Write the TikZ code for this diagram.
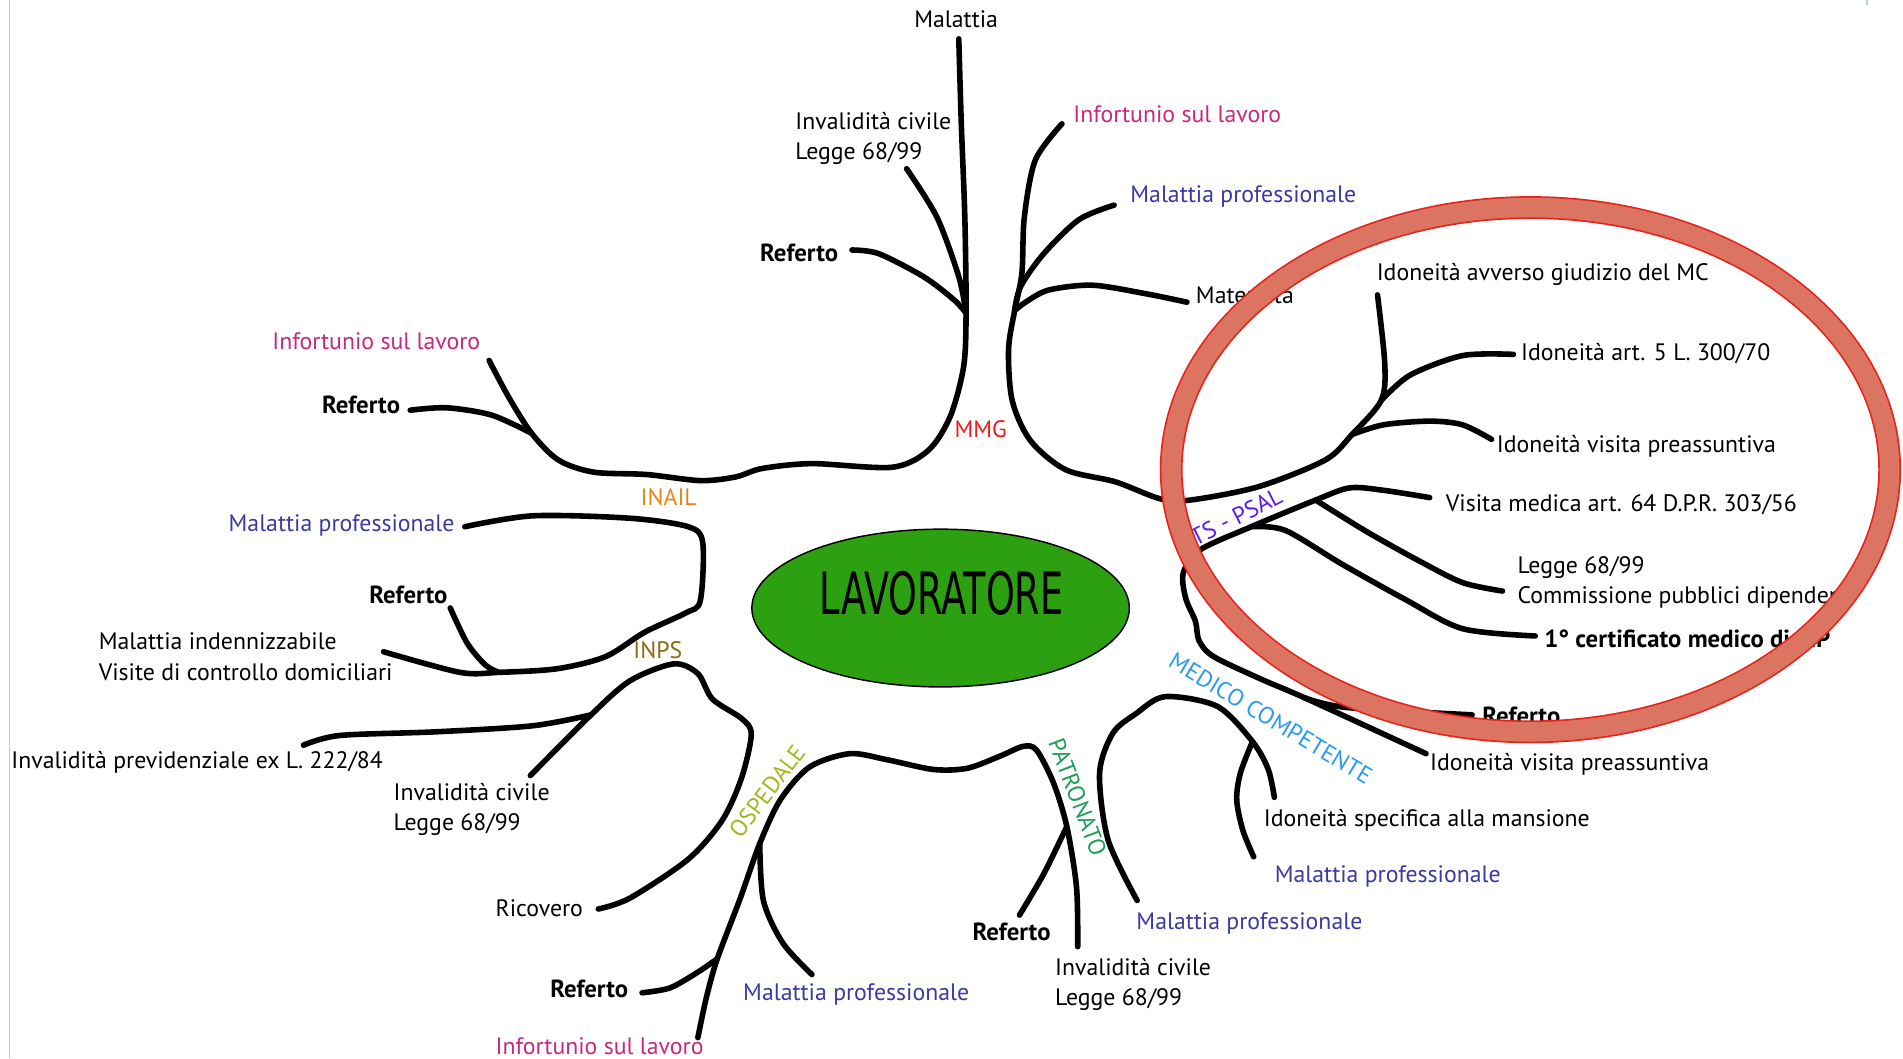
\documentclass[tikz,border=0pt]{standalone}
\usepackage{fontspec}
\setmainfont{PT Sans}
\newfontfamily\bigfont{DejaVu Sans}
\usetikzlibrary{shapes.geometric}

\definecolor{infcol}{HTML}{C8287E}
\definecolor{mpcol}{HTML}{3A3AA0}
\definecolor{mmgcol}{HTML}{EE1C1C}
\definecolor{inailcol}{HTML}{E8841C}
\definecolor{inpscol}{HTML}{8B6914}
\definecolor{ospcol}{HTML}{A6B51E}
\definecolor{patcol}{HTML}{1E9E55}
\definecolor{mccol}{HTML}{2A9AF0}
\definecolor{atscol}{HTML}{5A1AF0}
\definecolor{lavgreen}{HTML}{2CA010}
\definecolor{ringfill}{HTML}{DC7462}
\definecolor{ringred}{HTML}{E8231A}
\definecolor{edgegray}{HTML}{B8CDD0}

\tikzset{
  branch/.style={line width=2.3pt, line cap=round, line join=round},
  lbl/.style={anchor=west, inner sep=0pt, align=left, font=\fontsize{9.8}{12.5}\selectfont},
  ref/.style={lbl, font=\fontsize{10.2}{12.5}\selectfont\bfseries},
  hub/.style={inner sep=0pt, font=\fontsize{9.8}{11}\selectfont},
}

\begin{document}
\begin{tikzpicture}[x=0.5pt,y=-0.5pt]
        \useasboundingbox (0,0) rectangle (1568,872);
        \draw[edgegray, line width=0.6pt] (8,0) -- (8,872);
        \draw[edgegray, line width=0.8pt] (1538,0) -- (1538,4);

        % centre
        \node[ellipse, draw, line width=0.6pt, fill=lavgreen, minimum width=155.5pt, minimum height=65pt] (lav) at (775,501) {};
        \node[inner sep=0pt, font=\bigfont\fontsize{24}{24}\selectfont] (lavtxt) at (776,489) {\scalebox{0.63}[1]{LAVORATORE}};

        % MMG and INAIL
        \coordinate (jMmgL) at (796,258);
        \coordinate (jMmgR) at (836,256);
        \coordinate (jInail) at (438,357);
        \coordinate (eMal) at (790,32);
        \coordinate (eInfA) at (403,297);
        \coordinate (eRefA) at (338,338);
        \coordinate (eInvA) at (747,139);
        \coordinate (eRefB) at (702,206);
        \coordinate (eInfB) at (875,102);
        \coordinate (eMpB) at (918,169);
        \coordinate (eMat) at (978,249);
        % ATS
        \coordinate (jIdo1) at (1114,358);
        \coordinate (jIdo2) at (1138,330);
        \coordinate (eAvv) at (1135,243);
        \coordinate (eArt5) at (1247,292);
        \coordinate (ePre1) at (1229,362);
        \coordinate (eVis) at (1178,410);
        \coordinate (jAts1) at (1084,412);
        \coordinate (jAts2) at (1031,434);
        \coordinate (eLeg) at (1238,487);
        \coordinate (eCert) at (1265,524);
        % medico competente
        \coordinate (jMc) at (1075,575);
        \coordinate (eRefC) at (1213,589);
        \coordinate (ePre2) at (1175,621);
        \coordinate (jMc2) at (1032,611);
        \coordinate (eSpec) at (1050,657);
        \coordinate (eMpC) at (1033,706);
        \coordinate (eMpD) at (937,742);
        % patronato and ospedale
        \coordinate (jPat) at (879,681);
        \coordinate (eInvB) at (888,780);
        \coordinate (eRefD) at (840,754);
        \coordinate (jOsp1) at (626,695);
        \coordinate (jOsp2) at (591,790);
        \coordinate (eInfC) at (575,855);
        \coordinate (eRefE) at (529,818);
        \coordinate (eMpE) at (669,803);
        % INPS
        \coordinate (jInps) at (487,589);
        \coordinate (eInvC) at (437,639);
        \coordinate (eRic) at (493,749);
        \coordinate (ePrev) at (250,614);
        \coordinate (jInps2) at (411,554);
        \coordinate (eRefF) at (371,501);
        \coordinate (eInd) at (316,537);
        \coordinate (eMpF) at (383,434);

        \draw[branch] plot[smooth] coordinates {(eInfA) (419,327) (jInail) (460,379) (489,389) (533,391) (577,396) (606,393) (628,386) (669,382) (735,385) (765,371) (783,343) (794,302) (jMmgL) (795,180) (792,100) (eMal)};
        \draw[branch] plot[smooth] coordinates {(eRefA) (368,336) (405,342) (jInail)};
        \draw[branch] plot[smooth] coordinates {(eInvA) (772,179) (790,228) (jMmgL)};
        \draw[branch] plot[smooth] coordinates {(eRefB) (724,209) (761,228) (786,247) (jMmgL)};

        \draw[branch] plot[smooth] coordinates {(eInfB) (853,132) (844,179) (842,225) (jMmgR) (831,288) (834,330) (849,363) (878,387) (919,397) (956,411) (981,412) (1037,401) (1092,379) (jIdo1) (jIdo2) (1141,300) (eAvv)};
        \draw[branch] plot[smooth] coordinates {(eMpB) (889,181) (860,209) (841,236) (jMmgR)};
        \draw[branch] plot[smooth] coordinates {(eMat) (944,242) (900,235) (864,239) (845,249) (jMmgR)};
        \draw[branch] plot[smooth] coordinates {(eArt5) (1205,293) (1162,309) (jIdo2)};
        \draw[branch] plot[smooth] coordinates {(ePre1) (1205,350) (1178,347) (1140,350) (jIdo1)};

        \draw[branch] plot[smooth] coordinates {(eVis) (1140,404) (1112,402) (jAts1) (jAts2) (989,453) (975,472) (977,493) (985,512) (988,528) (1000,541) (1040,560) (jMc) (ePre2)};
        \draw[branch] plot[smooth] coordinates {(jAts1) (1126,438) (1169,462) (1205,480) (eLeg)};
        \draw[branch] plot[smooth] coordinates {(jAts2) (1059,437) (1106,465) (1158,494) (1205,518) (eCert)};
        \draw[branch] plot[smooth] coordinates {(jMc) (1110,583) (eRefC)};

        \draw[branch] plot[smooth] coordinates {(eMpD) (913,692) (906,637) (917,604) (936,588) (960,574) (1003,582) (jMc2) (1045,634) (eSpec)};
        \draw[branch] plot[smooth] coordinates {(jMc2) (1022,637) (1019,659) (1024,684) (eMpC)};

        \draw[branch] plot[smooth] coordinates {(eInfC) (582,822) (jOsp2) (610,740) (jOsp1) (643,659) (667,632) (700,621) (731,626) (769,634) (797,633) (824,623) (843,615) (854,618) (868,645) (jPat) (887,731) (eInvB)};
        \draw[branch] plot[smooth] coordinates {(jPat) (860,720) (eRefD)};
        \draw[branch] plot[smooth] coordinates {(jOsp1) (629,742) (645,777) (eMpE)};
        \draw[branch] plot[smooth] coordinates {(eRefE) (552,814) (575,801) (jOsp2)};

        \draw[branch] plot[smooth] coordinates {(eInvC) (jInps) (519,561) (555,547) (575,555) (587,576) (611,592) (619,605) (611,641) (595,676) (567,708) (519,740) (eRic)};
        \draw[branch] plot[smooth] coordinates {(ePrev) (280,606) (359,603) (439,598) (jInps)};
        \draw[branch] plot[smooth] coordinates {(eMpF) (439,425) (519,427) (567,434) (579,447) (577,495) (565,505) (531,521) (499,541) (459,551) (jInps2) (379,554) (eInd)};
        \draw[branch] plot[smooth] coordinates {(eRefF) (385,530) (400,548) (jInps2)};

        % labels
        \node[lbl] (tMal) at (753,16) {Malattia};
        \node[lbl] (tInvA) at (655,114) {Invalidità civile\\Legge 68/99};
        \node[ref] (tRefB) at (626,208) {Referto};
        \node[lbl, text=infcol] (tInfB) at (884,94) {Infortunio sul lavoro};
        \node[lbl, text=mpcol] (tMpB) at (931,162) {Malattia professionale};
        \node[lbl] (tMat) at (985,243) {Maternità};
        \node[hub, text=mmgcol] (mmg) at (808,354) {MMG};
        \node[lbl, text=infcol] (tInfA) at (224,281) {Infortunio sul lavoro};
        \node[ref] (tRefA) at (265,334) {Referto};
        \node[hub, text=inailcol] (inail) at (551,410) {INAIL};
        \node[lbl, text=mpcol] (tMpF) at (188,433) {Malattia professionale};
        \node[ref] (tRefF) at (304,490) {Referto};
        \node[lbl] (tInd) at (81,541) {Malattia indennizzabile\\Visite di controllo domiciliari};
        \node[hub, text=inpscol] (inps) at (542,536) {INPS};
        \node[lbl] (tPrev) at (9,628) {Invalidità previdenziale ex L. 222/84};
        \node[lbl] (tInvC) at (324,667) {Invalidità civile\\Legge 68/99};
        \node[lbl] (tRic) at (408,748) {Ricovero};
        \node[ref] (tRefE) at (453,815) {Referto};
        \node[lbl, text=infcol] (tInfC) at (408,862) {Infortunio sul lavoro};
        \node[lbl, text=mpcol] (tMpE) at (612,819) {Malattia professionale};
        \node[hub, text=ospcol, rotate=53] (osp) at (632,652) {OSPEDALE};
        \node[hub, text=patcol, rotate=-69] (pat) at (888,657) {PATRONATO};
        \node[ref] (tRefD) at (801,768) {Referto};
        \node[lbl] (tInvB) at (869,811) {Invalidità civile\\Legge 68/99};
        \node[lbl, text=mpcol] (tMpD) at (936,761) {Malattia professionale};
        \node[hub, text=mccol, rotate=-31] (mc) at (1047,592) {MEDICO COMPETENTE};
        \node[lbl] (tSpec) at (1041,676) {Idoneità specifica alla mansione};
        \node[lbl, text=mpcol] (tMpC) at (1050,722) {Malattia professionale};
        \node[lbl] (tPre2) at (1178,630) {Idoneità visita preassuntiva};
        \node[ref] (tRefC) at (1221,590) {Referto};
        \node[hub, text=atscol, rotate=27] (ats) at (1014,428) {ATS - PSAL};
        \node[lbl] (tAvv) at (1134,226) {Idoneità avverso giudizio del MC};
        \node[lbl] (tArt5) at (1253,291) {Idoneità art. 5 L. 300/70};
        \node[lbl] (tPre1) at (1233,368) {Idoneità visita preassuntiva};
        \node[lbl] (tVis) at (1191,416) {Visita medica art. 64 D.P.R. 303/56};
        \node[lbl] (tLeg) at (1250,480) {Legge 68/99\\Commissione pubblici dipendenti};
        \node[ref] (tCert) at (1272,526) {1° certificato medico di MP};

        % ring
        \draw[ringred, line width=9.4pt] (1261,387) ellipse [x radius=296, y radius=216];
        \draw[ringfill, line width=8pt] (1261,387) ellipse [x radius=296, y radius=216];
\end{tikzpicture}
\end{document}
